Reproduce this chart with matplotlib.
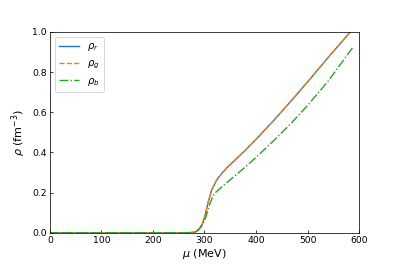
import matplotlib
matplotlib.use("Agg")
import matplotlib.pyplot as plt

# chemical potential (MeV) and densities (fm^-3)
mu_rg = [0, 270, 282, 290, 296, 301, 307, 314, 324, 335, 346, 360, 375, 400,
         434, 470, 502, 540, 583, 590]
rho_r = [0, 0, 0.003, 0.02, 0.045, 0.085, 0.15, 0.214, 0.264, 0.30, 0.33,
         0.364, 0.400, 0.465, 0.558, 0.662, 0.757, 0.873, 1.0, 1.02]
rho_g = list(rho_r)

mu_b = [0, 270, 282, 288, 295, 301, 306, 311, 316, 320, 330, 340, 355, 375,
        400, 434, 470, 498, 540, 589]
rho_b = [0, 0, 0.003, 0.012, 0.035, 0.065, 0.105, 0.148, 0.18, 0.197, 0.22,
         0.242, 0.275, 0.318, 0.375, 0.458, 0.55, 0.628, 0.755, 0.927]

xticks = [0, 100, 200, 300, 400, 500, 600]
yticks = [0.0, 0.2, 0.4, 0.6, 0.8, 1.0]

fig, ax = plt.subplots(figsize=(6, 4), dpi=66.5)
fig.subplots_adjust(left=0.125, right=0.9, bottom=0.125, top=0.88)
ax.plot(mu_rg, rho_r, '-', color='#1f77b4', lw=1.5, label=r'$\rho_r$')
ax.plot(mu_rg, rho_g, '--', color='#ff7f0e', lw=1.5, label=r'$\rho_g$')
ax.plot(mu_b, rho_b, '-.', color='#2ca02c', lw=1.5, label=r'$\rho_b$')
ax.set_xlim(0, 600)
ax.set_ylim(0, 1.0)
ax.set_xticks(xticks)
ax.set_yticks(yticks)
ax.tick_params(direction='in', labelsize=10)
ax.set_xlabel(r'$\mu$ (MeV)', fontsize=12, labelpad=2)
ax.set_ylabel(r'$\rho$ (fm$^{-3}$)', fontsize=12)
ax.legend(loc='upper left', fontsize=11)
fig.savefig('out.png', dpi=66.5)
